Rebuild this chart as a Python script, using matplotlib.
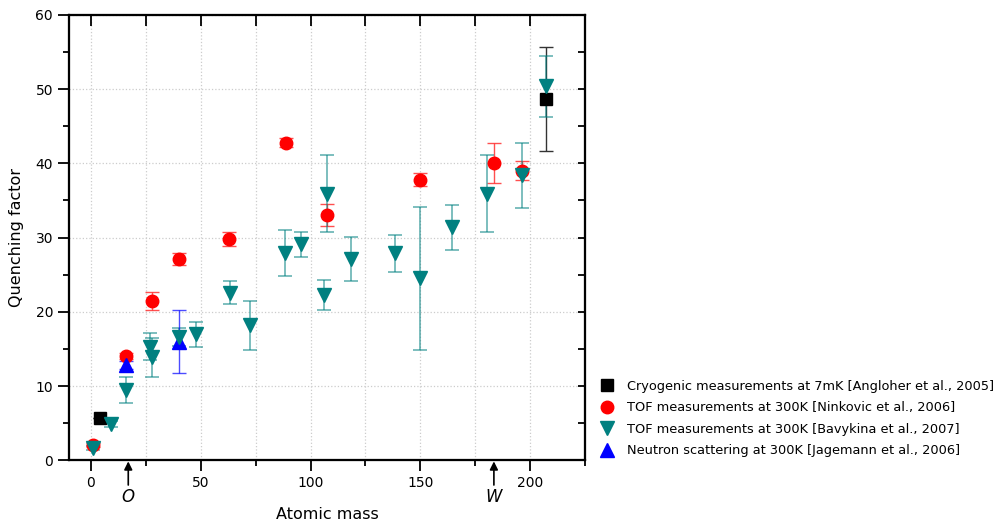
import numpy as np
import matplotlib
matplotlib.use('Agg')
import matplotlib.pyplot as plt
from matplotlib.lines import Line2D
from matplotlib.ticker import MultipleLocator

# Cryogenic measurements at 7mK [Angloher et al., 2005]
cryo_mass = [4, 207]
cryo_qf = [5.7, 48.7]
cryo_err = [0.0, 7.0]

# TOF measurements at 300K [Ninkovic et al., 2006]
nink_mass = [1, 16, 28, 40, 63, 89, 107.5, 150, 183.5, 196.5]
nink_qf = [2.1, 14.1, 21.5, 27.1, 29.8, 42.8, 33.0, 37.8, 40.1, 39.0]
nink_err = [0.3, 0.4, 1.2, 0.8, 0.95, 0.6, 1.5, 0.9, 2.7, 1.3]

# TOF measurements at 300K [Bavykina et al., 2007]
bav_mass = [1, 9, 16, 27, 28, 40, 48, 63.5, 72.5, 88.5, 95.6, 106, 107.5,
            118.5, 138.5, 150, 164.5, 180.5, 196.5, 207]
bav_qf = [1.7, 4.9, 9.5, 15.3, 13.9, 16.6, 17.0, 22.6, 18.2, 27.9, 29.1, 22.3, 35.9,
          27.1, 27.9, 24.5, 31.4, 35.9, 38.4, 50.4]
bav_err = [0.3, 0.4, 1.7, 1.8, 2.6, 1.2, 1.7, 1.6, 3.3, 3.1, 1.7, 2.0, 5.2,
           2.95, 2.5, 9.6, 3.0, 5.2, 4.4, 4.1]

# Neutron scattering at 300K [Jagemann et al., 2006]
jag_mass = [16, 40]
jag_qf = [12.85, 16.0]
jag_err = [0.5, 4.25]

teal = '#008080'

fig = plt.figure(figsize=(10.04, 5.27), dpi=100)
ax = fig.add_axes([0.0687, 0.1262, 0.514, 0.8458])

ax.errorbar(cryo_mass, cryo_qf, yerr=cryo_err, fmt='none', ecolor='#333333',
            elinewidth=1.0, capsize=5, capthick=1.0, zorder=2)
ax.plot(cryo_mass, cryo_qf, 's', color='black', ms=8, zorder=5)

ax.errorbar(nink_mass, nink_qf, yerr=nink_err, fmt='none', ecolor='#ff3030',
            elinewidth=1.0, capsize=5, capthick=1.0, alpha=0.85, zorder=3)
ax.plot(nink_mass, nink_qf, 'o', color='red', ms=9, zorder=4)

ax.errorbar(bav_mass, bav_qf, yerr=bav_err, fmt='none', ecolor=teal,
            elinewidth=1.2, capsize=5, capthick=1.2, alpha=0.6, zorder=3)
ax.plot(bav_mass, bav_qf, 'v', color=teal, ms=10, zorder=6)

ax.errorbar(jag_mass, jag_qf, yerr=jag_err, fmt='none', ecolor='blue',
            elinewidth=1.0, capsize=5, capthick=1.0, alpha=0.7, zorder=3)
ax.plot(jag_mass, jag_qf, '^', color='blue', ms=10, zorder=5)

ax.set_xlim(-10, 225)
ax.set_ylim(0, 60)
ax.xaxis.set_major_locator(MultipleLocator(50))
ax.xaxis.set_minor_locator(MultipleLocator(25))
ax.yaxis.set_major_locator(MultipleLocator(10))
ax.yaxis.set_minor_locator(MultipleLocator(5))

ax.grid(which='both', axis='x', color='#cccccc', linestyle=':', linewidth=0.9)
ax.grid(which='major', axis='y', color='#cccccc', linestyle=':', linewidth=0.9)
ax.set_axisbelow(True)

for s in ax.spines.values():
    s.set_linewidth(1.5)

ax.tick_params(which='major', direction='out', length=8, width=1.3,
               labelsize=10, top=False, right=False)
ax.tick_params(which='minor', direction='out', length=4, width=1.3,
               top=False, right=False)

# inward ticks on top and right, like the Origin original
ax2 = ax.twinx()
ax2.set_ylim(ax.get_ylim())
ax2.yaxis.set_major_locator(MultipleLocator(5))
ax2.tick_params(direction='in', length=5, width=1.3, labelright=False)
ax3 = ax.twiny()
ax3.set_xlim(ax.get_xlim())
ax3.xaxis.set_major_locator(MultipleLocator(25))
ax3.tick_params(direction='in', length=8, width=1.3, labeltop=False)
for a in (ax2, ax3):
    for s in a.spines.values():
        s.set_linewidth(1.5)

ax.set_xlabel('Atomic mass', fontsize=11.5)
ax.xaxis.set_label_coords(0.5, -0.105)
ax.set_ylabel('Quenching factor', fontsize=11.5)
ax.yaxis.set_label_coords(-0.087, 0.5)

# element markers under the x axis
for xm, lab in [(17, 'O'), (183.5, 'W')]:
    ax.annotate('', xy=(xm, -0.002), xycoords=('data', 'axes fraction'),
                xytext=(xm, -0.055), textcoords=('data', 'axes fraction'),
                arrowprops=dict(arrowstyle='-|>', color='black', lw=1.2,
                                mutation_scale=12, shrinkA=0, shrinkB=0))
    ax.text(xm, -0.082, lab, transform=ax.get_xaxis_transform(),
            ha='center', va='center', fontsize=12, style='italic')

handles = [
    Line2D([], [], marker='s', ls='none', color='black', ms=8),
    Line2D([], [], marker='o', ls='none', color='red', ms=9),
    Line2D([], [], marker='v', ls='none', color=teal, ms=10),
    Line2D([], [], marker='^', ls='none', color='blue', ms=10),
]
labels = [
    'Cryogenic measurements at 7mK [Angloher et al., 2005]',
    'TOF measurements at 300K [Ninkovic et al., 2006]',
    'TOF measurements at 300K [Bavykina et al., 2007]',
    'Neutron scattering at 300K [Jagemann et al., 2006]',
]
fig.legend(handles, labels, loc='upper left', bbox_to_anchor=(0.592, 0.292),
           frameon=False, fontsize=9.3, handlelength=1.0, handletextpad=1.0,
           labelspacing=0.66, borderpad=0)

fig.savefig('out.png', dpi=100)
